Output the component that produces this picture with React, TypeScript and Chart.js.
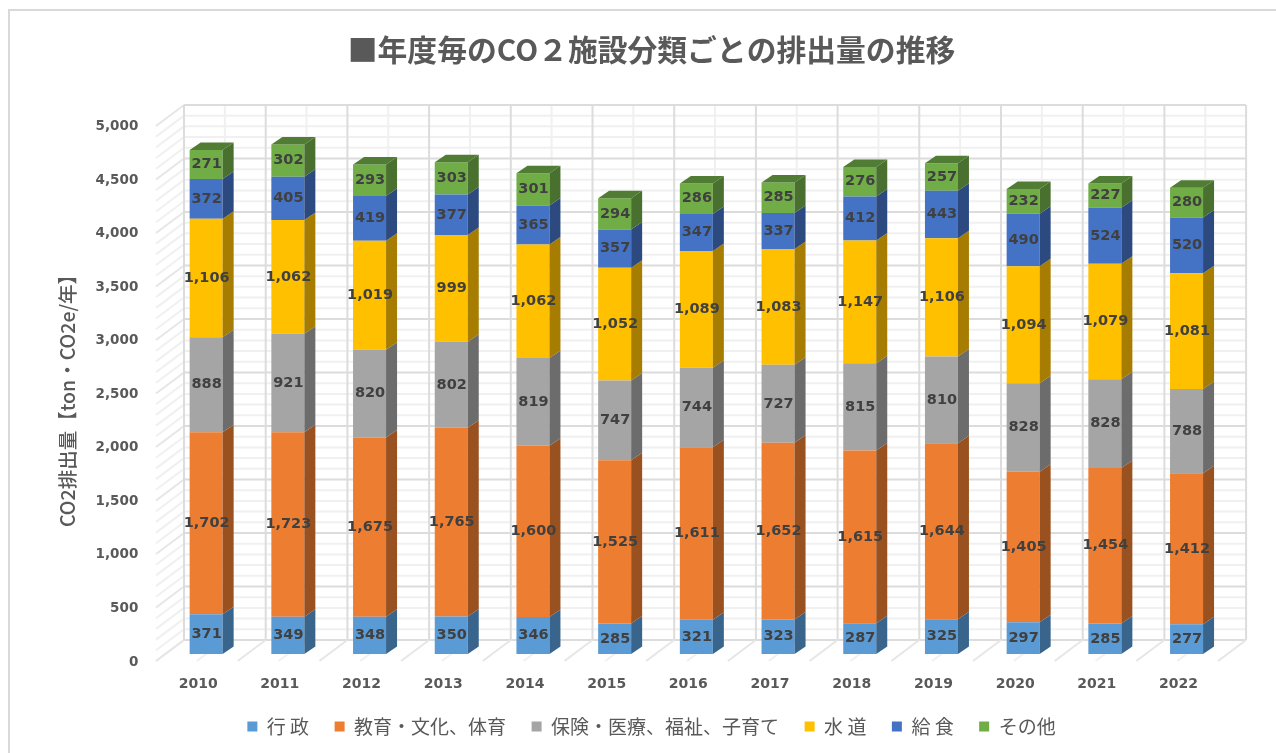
import React, { useEffect, useRef } from "react";
import { Chart, registerables } from "chart.js";

Chart.register(...registerables);

const years = ["2010","2011","2012","2013","2014","2015","2016","2017","2018","2019","2020","2021","2022"];
const gyosei = [371,349,348,350,346,285,321,323,287,325,297,285,277];
const kyoiku = [1702,1723,1675,1765,1600,1525,1611,1652,1615,1644,1405,1454,1412];
const hoken = [888,921,820,802,819,747,744,727,815,810,828,828,788];
const suido = [1106,1062,1019,999,1062,1052,1089,1083,1147,1106,1094,1079,1081];
const kyushoku = [372,405,419,377,365,357,347,337,412,443,490,524,520];
const sonota = [271,302,293,303,301,294,286,285,276,257,232,227,280];

const seriesNames = ["行 政","教育・文化、体育","保険・医療、福祉、子育て","水 道","給 食","その他"];
const seriesValues = [gyosei,kyoiku,hoken,suido,kyushoku,sonota];
const frontColors = ["#5B9BD5","#ED7D31","#A5A5A5","#FFC000","#4472C4","#70AD47"];
const sideColors = ["#39658C","#9A5120","#6C6C6C","#A67D00","#2C4A80","#49702E"];
const topColor = "#507C33";

const CJK = '"Noto Sans CJK JP", "Noto Sans", sans-serif';
const NUM = '"DejaVu Sans", sans-serif';
const TEXT = "#595959";

// 3D projection offsets, relative to the plane of the bars' front faces
const BAR = { dx: 11, dy: 7.5 };
const BACK = { dx: 18.7, dy: 14 };
const FRONT = { dx: -9.3, dy: -7 };

const frame3d = {
  id: "frame3d",
  beforeDraw(chart: any) {
    const { ctx, width, height } = chart;
    ctx.save();
    ctx.fillStyle = "#fff";
    ctx.fillRect(0, 0, width, height);
    ctx.strokeStyle = "#D9D9D9";
    ctx.lineWidth = 2;
    ctx.strokeRect(9, 10, width + 50, height + 50);
    ctx.restore();
  },
  beforeDatasetsDraw(chart: any) {
    const { ctx } = chart;
    const x = chart.scales.x;
    const y = chart.scales.y;
    const y0 = y.getPixelForValue(0);
    const yMax = y.getPixelForValue(5000);
    const line = (a: number, b: number, c: number, d: number, color: string, w: number) => {
      ctx.strokeStyle = color;
      ctx.lineWidth = w;
      ctx.beginPath();
      ctx.moveTo(a, b);
      ctx.lineTo(c, d);
      ctx.stroke();
    };
    ctx.save();
    const minor = "#F0F0F0";
    const major = "#DCDCDC";
    for (const pass of [0, 1]) {
      for (let v = 0; v <= 5000; v += 100) {
        const isMajor = v % 500 === 0;
        if (isMajor !== (pass === 1)) continue;
        const py = y.getPixelForValue(v);
        const c = isMajor ? major : minor;
        line(x.left + BACK.dx, py - BACK.dy, x.right + BACK.dx, py - BACK.dy, c, 2);
        line(x.left + FRONT.dx, py - FRONT.dy, x.left + BACK.dx, py - BACK.dy, isMajor ? "#E6E6E6" : minor, 2);
      }
      for (let i = 0; i <= years.length * 2; i++) {
        const isMajor = i % 2 === 0;
        if (isMajor !== (pass === 1)) continue;
        const px = x.getPixelForValue(i / 2 - 0.5);
        const c = isMajor ? major : minor;
        line(px + BACK.dx, yMax - BACK.dy, px + BACK.dx, y0 - BACK.dy, c, 2);
        line(px + FRONT.dx, y0 - FRONT.dy, px + BACK.dx, y0 - BACK.dy, isMajor ? "#E6E6E6" : minor, 2);
      }
    }
    ctx.restore();
  },
  afterDatasetsDraw(chart: any) {
    const { ctx } = chart;
    ctx.save();
    const n = chart.data.datasets.length;
    const poly = (pts: number[][], color: string) => {
      ctx.fillStyle = color;
      ctx.beginPath();
      pts.forEach((p, i) => (i ? ctx.lineTo(p[0], p[1]) : ctx.moveTo(p[0], p[1])));
      ctx.closePath();
      ctx.fill();
    };
    for (let d = 0; d < n; d++) {
      chart.getDatasetMeta(d).data.forEach((bar: any) => {
        const r = bar.x + bar.width / 2;
        const l = bar.x - bar.width / 2;
        poly([[r, bar.y],[r + BAR.dx, bar.y - BAR.dy],[r + BAR.dx, bar.base - BAR.dy],[r, bar.base]], sideColors[d]);
        if (d === n - 1) {
          poly([[l, bar.y],[l + BAR.dx, bar.y - BAR.dy],[r + BAR.dx, bar.y - BAR.dy],[r, bar.y]], topColor);
        }
      });
    }
    // data labels
    ctx.font = `bold 14.5px ${NUM}`;
    ctx.fillStyle = "#404040";
    ctx.textAlign = "center";
    ctx.textBaseline = "middle";
    for (let d = 0; d < n; d++) {
      chart.getDatasetMeta(d).data.forEach((bar: any, i: number) => {
        const v = chart.data.datasets[d].data[i];
        ctx.fillText(v.toLocaleString("en-US"), bar.x + 0.5, (bar.y + bar.base) / 2);
      });
    }
    // axis title
    ctx.translate(68, 396);
    ctx.rotate(-Math.PI / 2);
    ctx.font = `500 19.5px ${CJK}`;
    ctx.fillStyle = TEXT;
    ctx.fillText("CO2排出量【ton・CO2e/年】", 0, 0);
    ctx.restore();
  },
};

export default function App() {
  const ref = useRef<HTMLCanvasElement | null>(null);
  useEffect(() => {
    if (!ref.current) return;
    const chart = new Chart(ref.current, {
      type: "bar",
      data: {
        labels: years,
        datasets: seriesNames.map((name, i) => ({
          label: name,
          data: seriesValues[i],
          backgroundColor: frontColors[i],
          borderWidth: 0,
          categoryPercentage: 1,
          barPercentage: 0.404,
        })),
      },
      options: {
        responsive: false,
        animation: false,
        locale: "en-US",
        layout: { padding: { left: 75.6, right: 48.6, top: 0, bottom: 7 } },
        plugins: {
          tooltip: { enabled: false },
          title: {
            display: true,
            text: "■年度毎のCO２施設分類ごとの排出量の推移",
            color: TEXT,
            font: { family: CJK, size: 29.8, weight: "bold", lineHeight: 1.2 },
            padding: { top: 32.1, bottom: 51.1 },
          },
          legend: {
            position: "bottom",
            labels: {
              boxWidth: 10,
              boxHeight: 10,
              padding: 25.5,
              color: TEXT,
              font: { family: CJK, size: 19 },
            },
          },
        },
        scales: {
          x: {
            stacked: true,
            grid: { display: false },
            border: { display: false },
            afterFit: (s: any) => { s.height = 37.5; },
            ticks: {
              color: TEXT,
              font: { family: NUM, size: 14, weight: "bold" },
              mirror: true,
              padding: -38.5,
              labelOffset: -8,
              maxRotation: 0,
              autoSkip: false,
            },
          },
          y: {
            stacked: true,
            min: 0,
            max: 5000,
            grid: { display: false },
            border: { display: false },
            afterFit: (s: any) => { s.width = 89.7; },
            ticks: {
              stepSize: 500,
              color: TEXT,
              font: { family: NUM, size: 13.5, weight: "bold" },
              padding: 19,
              labelOffset: 8,
            },
          },
        },
      } as any,
      plugins: [frame3d],
    });
    return () => chart.destroy();
  }, []);
  return (
    <canvas
      ref={ref}
      width={1276}
      height={753}
      style={{ position: "fixed", left: 0, top: 0, width: 1276, height: 753, filter: "blur(0.4px)" }}
    />
  );
}
